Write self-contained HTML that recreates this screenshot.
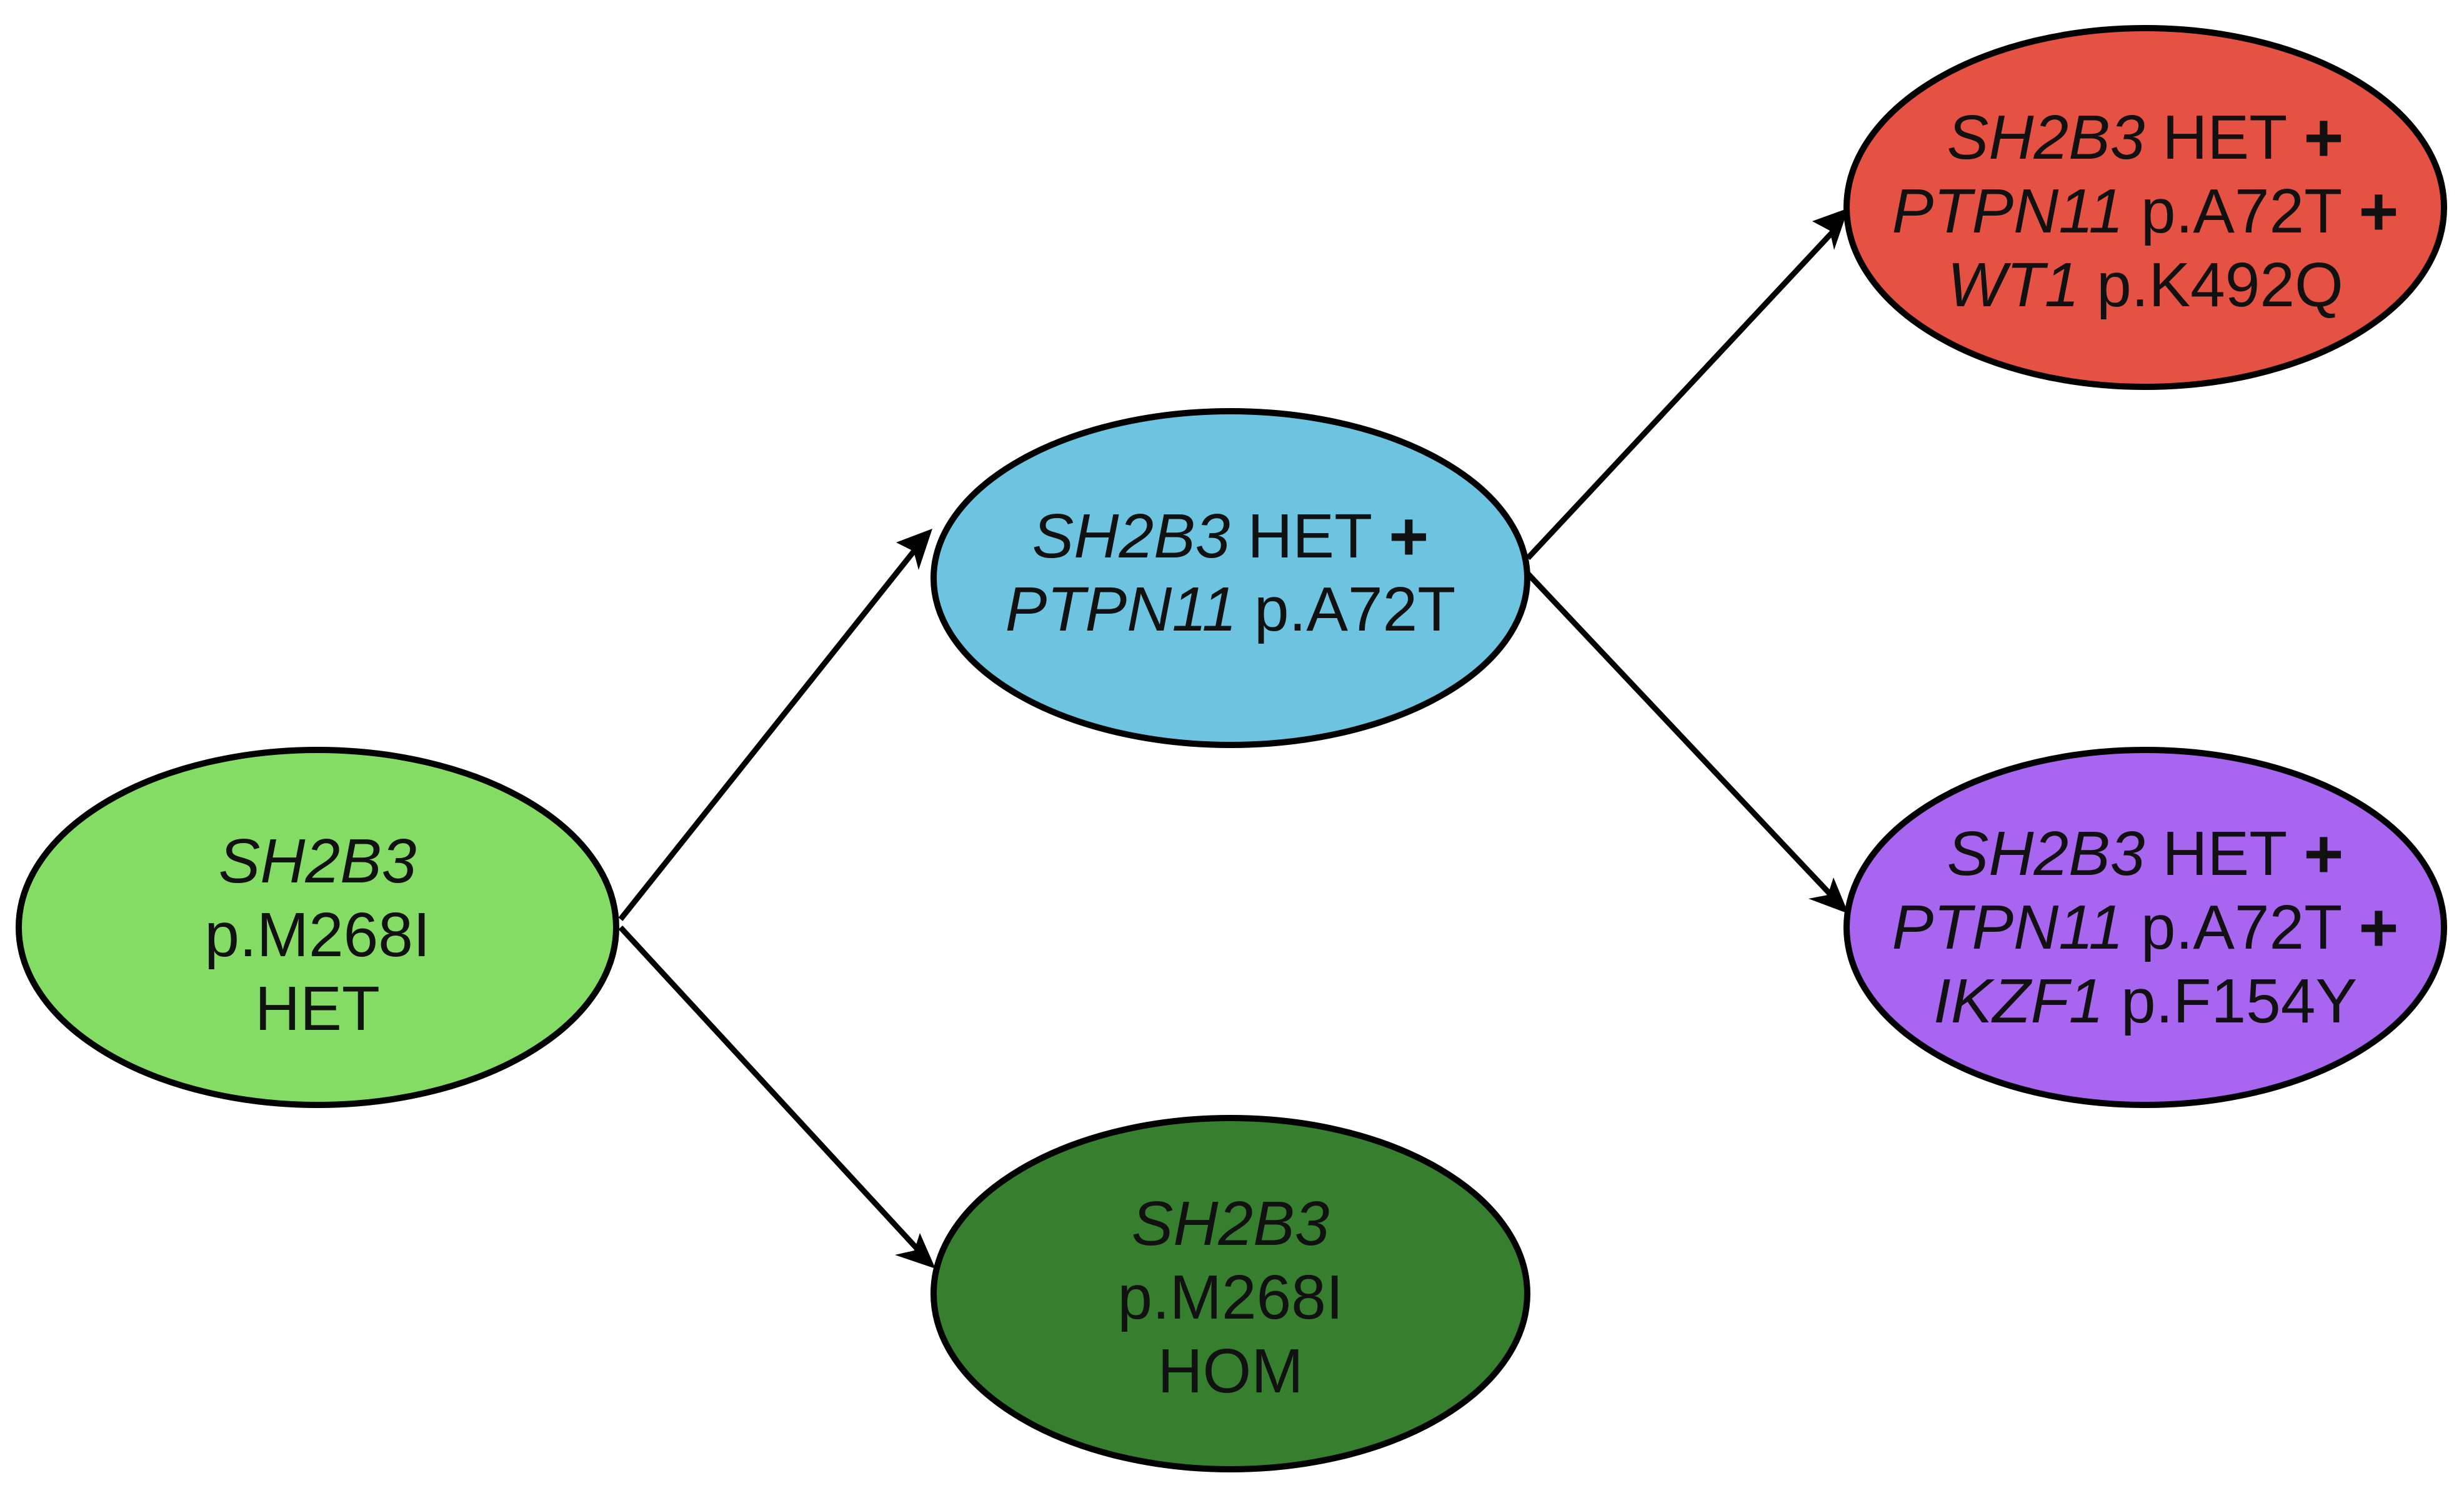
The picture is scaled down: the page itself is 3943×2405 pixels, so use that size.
<!DOCTYPE html>
<html><head><meta charset="utf-8"><style>
html,body{margin:0;padding:0;background:#fff;}
svg{display:block;}
text{font-family:"Liberation Sans",Arial,sans-serif;font-size:100px;fill:#111;text-anchor:middle;dominant-baseline:central;}
.i{font-style:italic;}
.b{font-weight:bold;font-size:110px;}
</style></head><body>
<svg width="3943" height="2405" viewBox="0 0 3943 2405" xmlns="http://www.w3.org/2000/svg">
<g stroke="#000" stroke-width="9" fill="none">
<line x1="993" y1="1471" x2="1480" y2="860"/>
<line x1="993" y1="1484" x2="1485" y2="2017"/>
<line x1="2445" y1="893" x2="2945" y2="358"/>
<line x1="2445" y1="918" x2="2945" y2="1448"/>
</g>
<g fill="#000">
<polygon points="1492,846 1434,868 1462,882 1470,912"/>
<polygon points="1497,2030 1472,1973 1463,2001 1432,2008"/>
<polygon points="2958,333 2900,354 2928,369 2935,400"/>
<polygon points="2958,1462 2934,1404 2925,1432 2894,1438"/>
</g>
<g stroke="#000" stroke-width="10">
<ellipse cx="508" cy="1484" rx="478" ry="284" fill="#84dc64"/>
<ellipse cx="1969" cy="925" rx="475" ry="267" fill="#6cc4e0"/>
<ellipse cx="3433" cy="332" rx="478" ry="287" fill="#e55244"/>
<ellipse cx="3433" cy="1484" rx="478" ry="284" fill="#a865f0"/>
<ellipse cx="1969" cy="2070" rx="475" ry="281" fill="#357f2e"/>
</g>
<text x="508" y="1378"><tspan class="i">SH2B3</tspan></text>
<text x="508" y="1496">p.M268I</text>
<text x="508" y="1614">HET</text>

<text x="1969" y="858"><tspan class="i">SH2B3</tspan> HET <tspan class="b">+</tspan></text>
<text x="1969" y="975"><tspan class="i">PTPN11</tspan> p.A72T</text>

<text x="3433" y="220"><tspan class="i">SH2B3</tspan> HET <tspan class="b">+</tspan></text>
<text x="3433" y="338"><tspan class="i">PTPN11</tspan> p.A72T <tspan class="b">+</tspan></text>
<text x="3433" y="456"><tspan class="i">WT1</tspan> p.K492Q</text>

<text x="3433" y="1366"><tspan class="i">SH2B3</tspan> HET <tspan class="b">+</tspan></text>
<text x="3433" y="1484"><tspan class="i">PTPN11</tspan> p.A72T <tspan class="b">+</tspan></text>
<text x="3433" y="1602"><tspan class="i">IKZF1</tspan> p.F154Y</text>

<text x="1969" y="1958"><tspan class="i">SH2B3</tspan></text>
<text x="1969" y="2076">p.M268I</text>
<text x="1969" y="2194">HOM</text>
</svg>
</body></html>
